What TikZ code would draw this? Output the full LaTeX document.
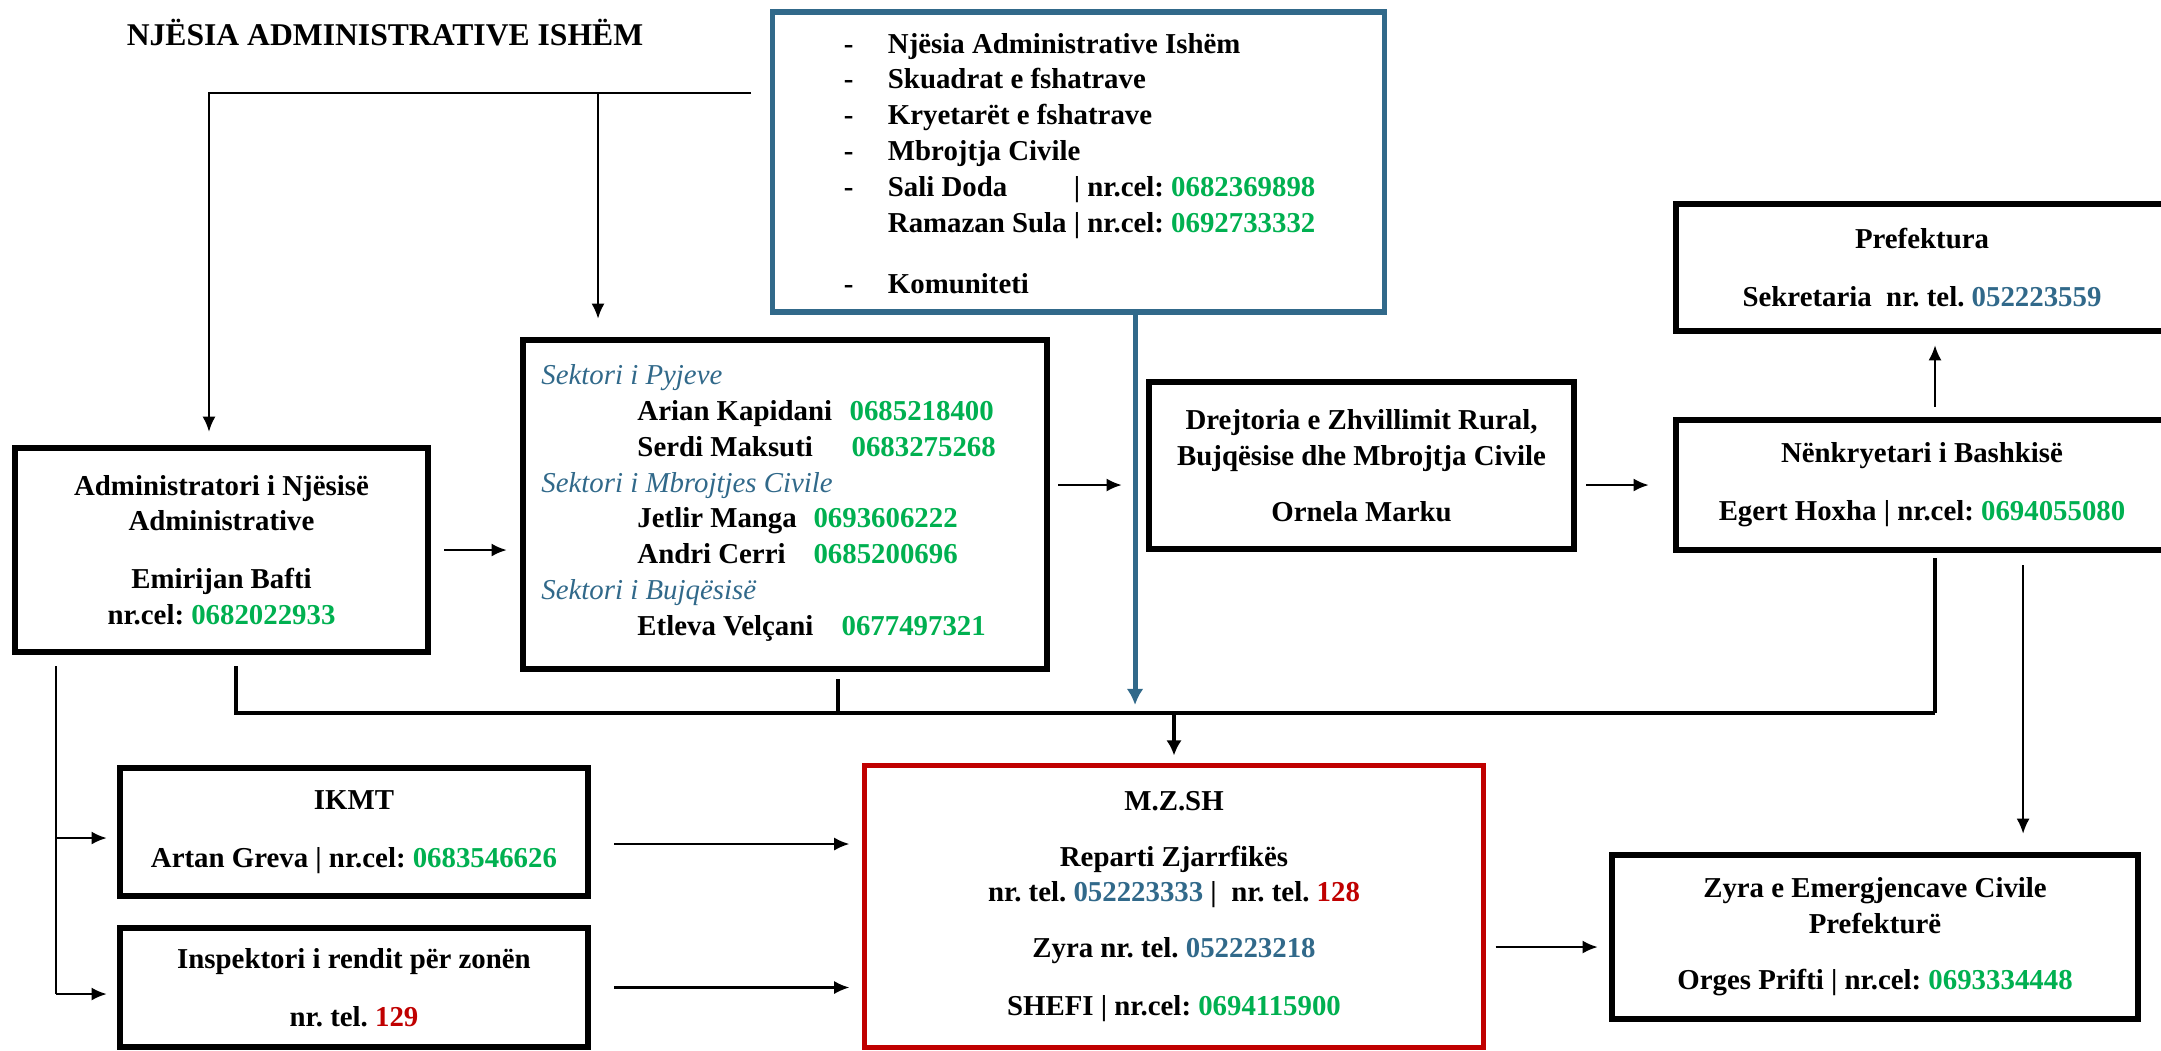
\documentclass[tikz,border=0pt]{standalone}
\usepackage{fontspec}
\setmainfont{Liberation Serif}
\usepackage{calc}
\usetikzlibrary{arrows.meta}
\definecolor{celgreen}{HTML}{00B050}
\definecolor{telblue}{HTML}{31698A}
\definecolor{telred}{HTML}{C00000}
\newcommand{\cel}[1]{\textcolor{celgreen}{#1}}
\newcommand{\tel}[1]{\textcolor{telblue}{#1}}
\newcommand{\urg}[1]{\textcolor{telred}{#1}}
\newcommand{\sektor}[1]{{\mdseries\itshape\color{telblue}#1}}
\newcommand{\punkt}[1]{\makebox[0.44cm][l]{-}#1}
\frenchspacing

\begin{document}
\begin{tikzpicture}[x=0.01cm, y=-0.01cm,
  every node/.style={font=\fontsize{8.2}{10.2}\selectfont\bfseries},
  box/.style={draw, line width=1.8pt, align=center, inner sep=0pt},
  conn/.style={line width=0.6pt},
  bus/.style={line width=0.9pt},
  arr/.style={line width=0.6pt, -{Latex[length=4.3pt,width=3.7pt]}}]

\useasboundingbox (0,0) rectangle (2161,1050);

%title
\node (title) at (385,33) {\fontsize{9}{11}\selectfont NJËSIA ADMINISTRATIVE ISHËM};

%boxes
\node[box, draw=telblue, line width=1.5pt, minimum width=6.11cm, minimum height=3cm] (komb) at (1078.5,162) {};
\node[box, minimum width=4.13cm, minimum height=2.04cm] (admin) at (221.5,550) {Administratori i Njësisë\\Administrative\\[0.22cm]Emirijan Bafti\\nr.cel: \cel{0682022933}};
\node[box, minimum width=5.24cm, minimum height=3.29cm] (sektor) at (785,504.5) {};
\node[box, minimum width=4.25cm, minimum height=1.67cm] (drejt) at (1361.5,465.5) {Drejtoria e Zhvillimit Rural,\\Bujqësise dhe Mbrojtja Civile\\[0.2cm]Ornela Marku};
\node[box, minimum width=4.92cm, minimum height=1.3cm] (nenkr) at (1922,485) {Nënkryetari i Bashkisë\\[0.22cm]Egert Hoxha | nr.cel: \cel{0694055080}};
\node[box, minimum width=4.92cm, minimum height=1.27cm] (prefekt) at (1922,267.5) {Prefektura\\[0.22cm]Sekretaria\ \ nr. tel. \tel{052223559}};
\node[box, minimum width=4.68cm, minimum height=1.28cm] (ikmt) at (354,832) {IKMT\\[0.22cm]Artan Greva | nr.cel: \cel{0683546626}};
\node[box, minimum width=4.68cm, minimum height=1.19cm] (insp) at (354,987.5) {Inspektori i rendit për zonën\\[0.22cm]nr. tel. \urg{129}};
\node[box, draw=telred, line width=1.4pt, minimum width=6.18cm, minimum height=2.81cm] (mzsh) at (1174,906.5) {M.Z.SH\\[0.2cm]Reparti Zjarrfikës\\nr. tel. \tel{052223333} |\ \ nr. tel. \urg{128}\\[0.2cm]Zyra nr. tel. \tel{052223218}\\[0.22cm]SHEFI | nr.cel: \cel{0694115900}};
\node[box, minimum width=5.26cm, minimum height=1.64cm] (zyra) at (1875,937) {Zyra e Emergjencave Civile\\Prefekturë\\[0.2cm]Orges Prifti | nr.cel: \cel{0693334448}};

%texts of the left aligned boxes
\node[anchor=north west, align=left, inner sep=0pt] (kombtxt) at ([xshift=0.73cm, yshift=-0.23cm]komb.north west) {\punkt{Njësia Administrative Ishëm}\\
\punkt{Skuadrat e fshatrave}\\
\punkt{Kryetarët e fshatrave}\\
\punkt{Mbrojtja Civile}\\
\punkt{\makebox[\widthof{Ramazan Sula\ }][l]{Sali Doda}| nr.cel: \cel{0682369898}}\\
\hspace*{0.44cm}Ramazan Sula | nr.cel: \cel{0692733332}\\[0.25cm]
\punkt{Komuniteti}};
\node[anchor=north west, align=left, inner sep=0pt] (sektortxt) at ([xshift=0.21cm, yshift=-0.27cm]sektor.north west) {\sektor{Sektori i Pyjeve}\\
\hspace*{0.96cm}\makebox[2.12cm][l]{Arian Kapidani}\cel{0685218400}\\
\hspace*{0.96cm}\makebox[2.14cm][l]{Serdi Maksuti}\cel{0683275268}\\
\sektor{Sektori i Mbrojtjes Civile}\\
\hspace*{0.96cm}\makebox[1.76cm][l]{Jetlir Manga}\cel{0693606222}\\
\hspace*{0.96cm}\makebox[1.76cm][l]{Andri Cerri}\cel{0685200696}\\
\sektor{Sektori i Bujqësisë}\\
\hspace*{0.96cm}\makebox[2.04cm][l]{Etleva Velçani}\cel{0677497321}};

%junctions
\coordinate (kombL) at (751,93);
\coordinate (j1) at (598,93);
\coordinate (busR) at ([xshift=0.13cm]nenkr.south |- 0,713);
\coordinate (lft) at ([xshift=0.44cm]admin.south west);
\coordinate (ikmtIn) at ([yshift=-0.06cm]ikmt.west);
\coordinate (inspIn) at ([yshift=-0.065cm]insp.west);
\coordinate (ikmtOut) at ([yshift=-0.12cm]ikmt.east);
\coordinate (zyraIn) at ([yshift=-0.1cm]zyra.west);
\coordinate (zyraTop) at ([xshift=1.48cm]zyra.north);
\coordinate (blueX) at ([xshift=0.565cm]komb.south);

%connectors from the top
\draw[arr, shorten >=0.13cm] (kombL) -| ([xshift=-0.125cm]admin.north);
\draw[arr, shorten >=0.18cm] (j1) -- (j1 |- sektor.north);
\draw[line width=1.4pt, color=telblue, -{Latex[length=4.6pt,width=4.8pt]}, shorten >=0.08cm] (blueX) -- (blueX |- busR);

%middle row
\draw[arr, shorten <=0.13cm, shorten >=0.13cm] (admin.east) -- (admin.east -| sektor.west);
\draw[arr, shorten <=0.08cm, shorten >=0.24cm] (sektor.east |- nenkr.west) -- (drejt.west |- nenkr.west);
\draw[arr, shorten <=0.09cm, shorten >=0.24cm] (drejt.east |- nenkr.west) -- (nenkr.west);
\draw[arr, shorten <=0.1cm, shorten >=0.11cm] ([xshift=0.13cm]nenkr.north) -- ([xshift=0.13cm]prefekt.south);

%bus line
\draw[bus, shorten <=0.11cm] ([xshift=0.145cm]admin.south) |- (busR);
\draw[bus, shorten <=0.05cm] ([xshift=0.13cm]nenkr.south) -- (busR);
\draw[bus, shorten <=0.07cm] ([xshift=0.53cm]sektor.south) -- ([xshift=0.53cm]sektor.south |- busR);
\draw[arr, line width=0.9pt, -{Latex[length=4.3pt,width=4.4pt]}, shorten >=0.08cm] (mzsh.north |- busR) -- (mzsh.north);

%bottom row
\draw[conn, shorten <=0.11cm] (lft) -- (lft |- inspIn);
\draw[arr, shorten >=0.1cm] (lft |- ikmtIn) -- (ikmtIn);
\draw[arr, shorten >=0.1cm] (lft |- inspIn) -- (inspIn);
\draw[arr, shorten <=0.23cm, shorten >=0.13cm] (ikmtOut) -- (ikmtOut -| mzsh.west);
\draw[arr, shorten <=0.23cm, shorten >=0.13cm] (insp.east) -- (insp.east -| mzsh.west);
\draw[arr, shorten <=0.1cm, shorten >=0.11cm] (zyraIn -| mzsh.east) -- (zyraIn);
\draw[arr, shorten <=0.12cm, shorten >=0.18cm] (zyraTop |- nenkr.south) -- (zyraTop);

\end{tikzpicture}
\end{document}
